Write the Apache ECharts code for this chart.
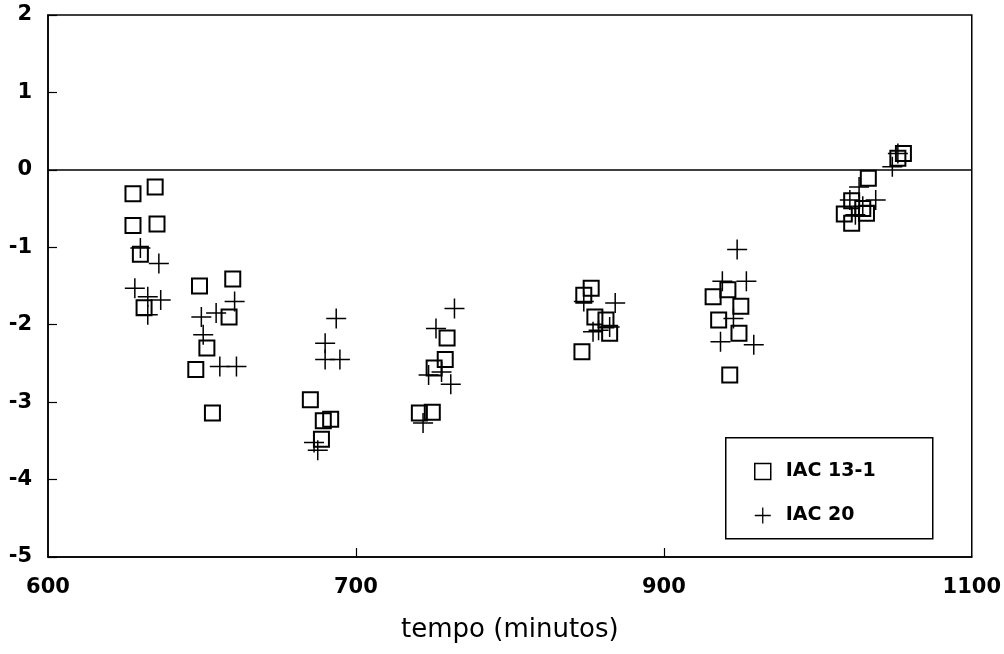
<!DOCTYPE html>
<html>
<head>
<meta charset="utf-8">
<script src="https://cdn.jsdelivr.net/npm/echarts@6/dist/echarts.min.js"></script>
<style>html,body{margin:0;padding:0;background:#fff}#c{width:1004px;height:654px}</style>
</head>
<body>
<div id="c"></div>
<script>
// X tick labels as printed (equally spaced across the axis)
var xTickLabels = ['600', '700', '900', '1100'];
var xMin = 600, xMax = 1100;
var yMin = -5, yMax = 2;

// IAC 13-1 (squares): [tempo, value]
var iac131 = [
  [646, -0.31], [658, -0.22], [646, -0.72], [659, -0.70], [650, -1.09], [652, -1.78],
  [682, -1.50], [700, -1.41], [698, -1.90], [686, -2.30], [680, -2.58], [689, -3.14],
  [742, -2.97], [749, -3.24], [753, -3.22], [748, -3.48],
  [816, -2.17], [815, -2.45], [809, -2.56], [801, -3.14], [808, -3.13],
  [894, -1.53], [890, -1.62], [896, -1.90], [902, -1.94], [904, -2.11], [889, -2.35],
  [968, -1.55], [960, -1.64], [975, -1.76], [963, -1.94], [974, -2.11], [969, -2.65],
  [1044, -0.11], [1063, 0.21], [1060, 0.15], [1035, -0.40], [1031, -0.57],
  [1041, -0.50], [1035, -0.69], [1043, -0.56]
];

// IAC 20 (plus signs): [tempo, value]
var iac20 = [
  [650, -1.01], [660, -1.21], [647, -1.53], [654, -1.64], [661, -1.68], [654, -1.87],
  [683, -1.90], [691, -1.85], [701, -1.70], [684, -2.13], [693, -2.54], [702, -2.54],
  [756, -1.92], [750, -2.24], [750, -2.45], [758, -2.45], [744, -3.52], [746, -3.62],
  [820, -1.79], [810, -2.05], [806, -2.65], [818, -2.77], [813, -2.61], [803, -3.27],
  [890, -1.70], [907, -1.72], [898, -2.07], [904, -2.03], [895, -2.09],
  [973, -1.03], [965, -1.44], [978, -1.44], [971, -1.92], [964, -2.22], [982, -2.26],
  [1060, 0.21], [1057, 0.04], [1039, -0.22], [1034, -0.39], [1048, -0.39],
  [1041, -0.47], [1037, -0.58]
];

var xTickValues = xTickLabels.map(function (_, i) {
  return xMin + i * (xMax - xMin) / (xTickLabels.length - 1);
});

var plusPath = 'path://M0,10L20,10M10,0L10,20';
var chart = echarts.init(document.getElementById('c'), null, {renderer: 'canvas'});
var labelFont = {fontFamily: 'DejaVu Sans', fontWeight: 'bold', fontSize: 21, color: '#000'};

chart.setOption({
  animation: false,
  backgroundColor: '#fff',
  grid: {left: 48, right: 32, top: 15, bottom: 97, show: true, borderColor: '#000', borderWidth: 1.5, backgroundColor: 'transparent'},
  xAxis: {
    type: 'value', min: xMin, max: xMax,
    axisLine: {show: true, onZero: false, lineStyle: {color: '#000', width: 1.5}},
    axisTick: {show: true, inside: true, length: 9, customValues: xTickValues.slice(1, -1), lineStyle: {color: '#000', width: 1.2}},
    axisLabel: Object.assign({
      customValues: xTickValues, margin: 20,
      formatter: function (v) {
        for (var i = 0; i < xTickValues.length; i++) {
          if (Math.abs(xTickValues[i] - v) < 1e-6) return xTickLabels[i];
        }
        return '';
      }
    }, labelFont),
    splitLine: {show: false},
    name: 'tempo (minutos)', nameLocation: 'middle', nameGap: 60,
    nameTextStyle: {fontFamily: 'DejaVu Sans', fontSize: 26, color: '#000'}
  },
  yAxis: {
    type: 'value', min: yMin, max: yMax, interval: 1,
    axisLine: {show: true, onZero: false, lineStyle: {color: '#000', width: 1.5}},
    axisTick: {show: true, inside: true, length: 9, lineStyle: {color: '#000', width: 1.2}},
    axisLabel: Object.assign({margin: 16}, labelFont),
    splitLine: {show: false}
  },
  legend: {
    orient: 'vertical', left: 749, top: 457, itemWidth: 16, itemHeight: 16, itemGap: 25,
    textStyle: {fontFamily: 'DejaVu Sans', fontWeight: 'bold', fontSize: 19, color: '#000', padding: [0, 0, 0, 10]},
    data: [
      {name: 'IAC 13-1', icon: 'rect', itemStyle: {color: 'transparent', borderColor: '#000', borderWidth: 1.5}},
      {name: 'IAC 20', icon: plusPath, itemStyle: {color: 'transparent', borderColor: '#000', borderWidth: 1.3}}
    ]
  },
  graphic: [{
    type: 'rect', left: 725, top: 437, shape: {width: 207, height: 101},
    style: {fill: 'transparent', stroke: '#000', lineWidth: 1.5}, silent: true
  }],
  series: [
    {
      name: 'IAC 13-1', type: 'scatter', data: iac131, symbol: 'rect', symbolSize: 15,
      itemStyle: {color: 'transparent', borderColor: '#000', borderWidth: 2, opacity: 1},
      markLine: {
        silent: true, symbol: 'none', label: {show: false},
        lineStyle: {color: '#000', width: 1.5, type: 'solid'},
        data: [{yAxis: 0}]
      }
    },
    {
      name: 'IAC 20', type: 'scatter', data: iac20, symbol: plusPath, symbolSize: 20,
      itemStyle: {color: 'transparent', borderColor: '#000', borderWidth: 1.5, opacity: 1}
    }
  ]
});
</script>
</body>
</html>
